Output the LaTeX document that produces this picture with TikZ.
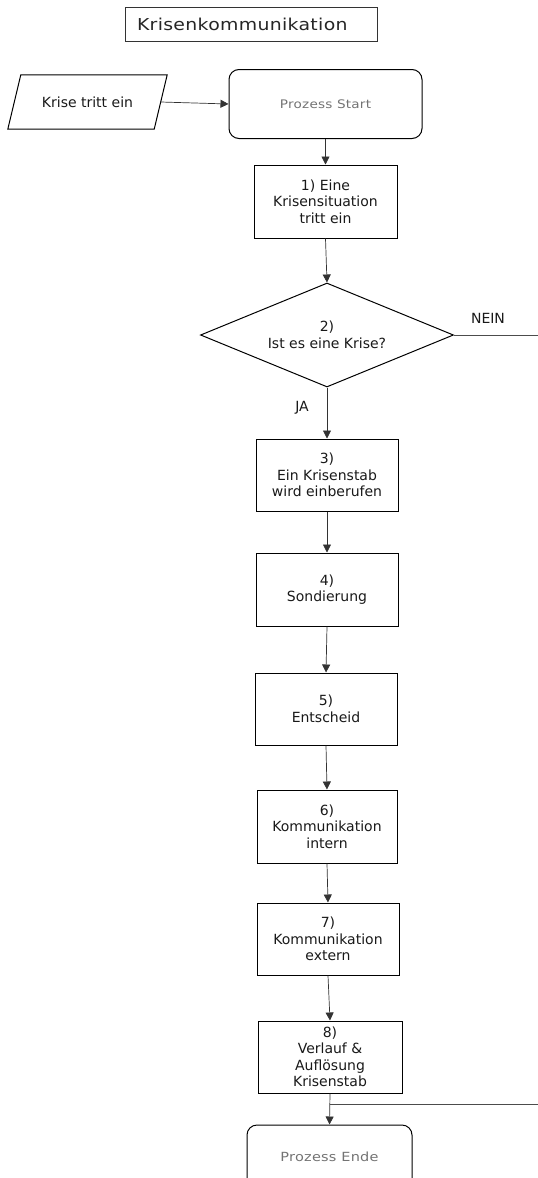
\documentclass[tikz,border=0pt]{standalone}
\usepackage{fontspec}
\setmainfont{DejaVu Sans}
\newfontfamily\widefont{DejaVu Sans}[FakeStretch=1.15,LetterSpace=2]
\usetikzlibrary{shapes.geometric,arrows.meta,calc}
\tikzset{
  stepbox/.style={draw=black, line width=1pt, rectangle, minimum width=142pt,
    minimum height=72pt, inner sep=0pt, align=center,
    font=\fontsize{14}{16.5}\selectfont, text=black!90},
  terminal/.style={draw=black, line width=1pt, rectangle, rounded corners=10pt,
    inner sep=0pt, text=black!55},
  conn/.style={draw=black!80, line width=0.7pt, -{Triangle[length=8pt,width=8pt]}},
  plainline/.style={draw=black!70, line width=0.8pt},
  lbl/.style={font=\fontsize{14}{16.5}\selectfont, inner sep=0pt, text=black!90}
}
\begin{document}
\begin{tikzpicture}[x=1pt,y=-1pt]
\useasboundingbox (0,0) rectangle (538,1178);
\clip (0,0) rectangle (538,1178);

% title
\node[draw=black!80, line width=0.9pt, minimum height=34pt, inner ysep=0pt,
      inner xsep=12pt, text width=228pt, align=left, text=black!85,
      font=\widefont\fontsize{16.4}{19}\selectfont] (title) at (251,24) {Krisenkommunikation};

% input parallelogram
\node[rectangle, inner sep=0pt, minimum width=159pt, minimum height=54pt, lbl]
      (krise) at (87.5,102) {Krise tritt ein};
\draw[line width=1pt] ([xshift=13pt]krise.north west) -- (krise.north east)
      -- ([xshift=-13pt]krise.south east) -- (krise.south west) -- cycle;
\coordinate (kriseOut) at ([xshift=-6.5pt]krise.east);

% start
\node[terminal, minimum width=193pt, minimum height=69pt,
      font=\widefont\fontsize{11.8}{14}\selectfont] (start) at (325.5,104) {Prozess Start};

% steps
\node[stepbox, minimum width=143pt, minimum height=73pt] (b1) at (325.5,201.5) {1) Eine\\Krisensituation\\tritt ein};
\node[diamond, aspect=2.43, draw=black, line width=1pt, inner sep=0pt,
      minimum width=253pt, minimum height=104pt, align=center, lbl] (d2) at (327,335) {2)\\Ist es eine Krise?};
\node[stepbox] (b3) at (327,475) {3)\\Ein Krisenstab\\wird einberufen};
\node[stepbox, minimum height=73pt] (b4) at (327,589.5) {4)\\Sondierung};
\node[stepbox] (b5) at (326,709) {5)\\Entscheid};
\node[stepbox, minimum width=140pt, minimum height=73pt] (b6) at (327,826.5) {6)\\Kommunikation\\intern};
\node[stepbox] (b7) at (328,939) {7)\\Kommunikation\\extern};
\node[stepbox, minimum width=144pt] (b8) at (330,1057) {8)\\Verlauf \&\\Auflösung\\Krisenstab};

% end
\node[terminal, minimum width=165pt, minimum height=64pt,
      font=\widefont\fontsize{12.6}{15}\selectfont] (ende) at (329.5,1157) {Prozess Ende};

% connectors
\draw[conn] (kriseOut) -- (start.west);
\draw[conn] (start.south) -- (b1.north);
\draw[conn] (b1.south) -- (d2.north);
\coordinate (neinEnd) at (538,335);
\draw[plainline] (d2.east) -- (neinEnd);
\node[lbl, anchor=south] (nein) at (488,324) {NEIN};
\draw[conn] (d2.south) -- (b3.north);
\node[lbl] (ja) at (302,408) {JA};
\draw[conn] (b3.south) -- (b4.north);
\draw[conn] (b4.south) -- (b5.north);
\draw[conn] (b5.south) -- (b6.north);
\draw[conn] (b6.south) -- (b7.north);
\draw[conn] (b7.south) -- (b8.north);
\draw[conn] (b8.south) -- (ende.north);
\coordinate (j) at ($(b8.south)!0.34!(ende.north)$);
\coordinate (jEnd) at (538,1104);
\draw[plainline] (j) -- (j -| jEnd);
\end{tikzpicture}
\end{document}
